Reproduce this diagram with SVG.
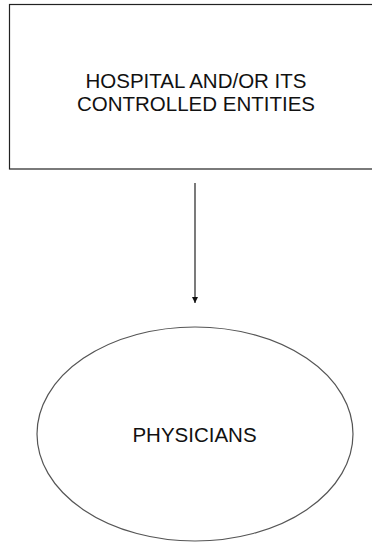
<svg xmlns="http://www.w3.org/2000/svg" width="372" height="542" viewBox="0 0 372 542">
  <style>
    .label { font-family: "Liberation Sans", Arial, sans-serif; font-size: 20.5px; fill: #111; text-anchor: middle; }
    .shape { fill: #fff; stroke: #222; stroke-width: 1.2; }
    .edge { stroke: #333; stroke-width: 1.3; fill: none; }
  </style>
  <defs>
    <marker id="arrow" viewBox="0 0 10 10" refX="10" refY="5" markerWidth="6" markerHeight="7" markerUnits="userSpaceOnUse" orient="auto">
      <path d="M0,0 L10,5 L0,10 Z" fill="#111"/>
    </marker>
  </defs>
  <rect width="372" height="542" fill="#fff"/>

  <g id="hospital">
    <rect class="shape" x="9.5" y="4.5" width="370" height="164.5"/>
    <text class="label" x="196" y="88">HOSPITAL AND/OR ITS</text>
    <text class="label" x="196" y="111">CONTROLLED ENTITIES</text>
  </g>

  <g id="physicians">
    <ellipse class="shape" cx="195" cy="434" rx="158" ry="107" style="stroke:#555"/>
    <text class="label" x="194.5" y="441.5">PHYSICIANS</text>
  </g>

  <g id="connectors">
    <line class="edge" x1="195" y1="183" x2="195" y2="303" marker-end="url(#arrow)"/>
  </g>
</svg>
